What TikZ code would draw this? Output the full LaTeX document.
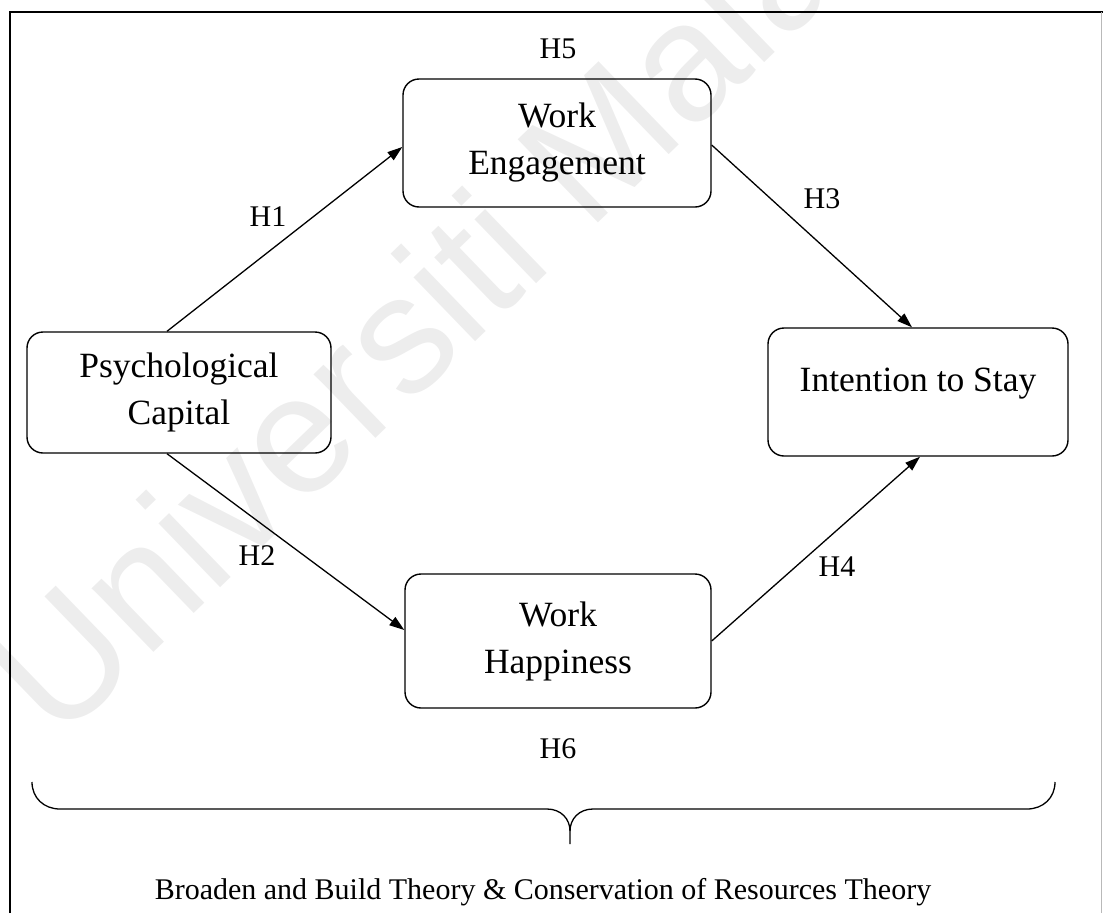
\documentclass[tikz,border=0pt]{standalone}
\usepackage{fontspec}
\setmainfont{Liberation Serif}
\newfontfamily\wmfont{Liberation Sans}
\usetikzlibrary{arrows.meta,calc}

\begin{document}
\begin{tikzpicture}[x=1pt,y=-1pt,
  box/.style={draw, line width=1.4pt, rounded corners=16pt, align=center,
    inner sep=0pt, font=\fontsize{35.5}{47}\selectfont},
  hlab/.style={anchor=base, inner sep=0pt, font=\fontsize{30}{36}\selectfont},
  link/.style={line width=1.3pt, -{Triangle[length=15pt,width=10pt]}},
  brace/.style={line width=1.3pt},
]
\useasboundingbox (0,0) rectangle (1103,913);
\clip (0,0) rectangle (1103,913);

% faint watermark behind the model
\node[rotate=44, anchor=base west, inner sep=0pt, text=black!7,
  font=\wmfont\fontsize{168}{168}\selectfont] (wm) at (58,745) {Universiti Malaya};

% page frame
\draw[line width=1.8pt] (10,913) -- (10,12) -- (1103,12);
\draw[line width=1.2pt, gray!55] (1101.5,12) -- (1101.5,913);

% constructs
\node[box, minimum width=308pt, minimum height=128pt] (WE) at (557,143) {Work\\Engagement};
\node[box, minimum width=304pt, minimum height=121pt] (PC) at (179,392.5) {Psychological\\Capital};
\node[box, minimum width=300pt, minimum height=128pt] (IS) at (918,392) {};
\node[anchor=base, inner sep=0pt, font=\fontsize{35.5}{47}\selectfont] (IStxt)
  at ([yshift=1pt]IS.center) {Intention to Stay};
\node[box, minimum width=306pt, minimum height=134pt] (WH) at (558,641) {Work\\Happiness};

% hypothesised paths
\draw[link] ([xshift=-12pt]PC.north) -- ([yshift=-4pt]WE.west);
\draw[link] ([yshift=-2pt]WE.east) -- ([xshift=-6pt]IS.north);
\draw[link] ([xshift=-12pt]PC.south) -- ([yshift=11pt]WH.west);
\draw[link] (WH.east) -- ([xshift=2pt]IS.south);

% hypothesis labels
\node[hlab] (h1) at (268,226) {H1};
\node[hlab] (h2) at (257,565) {H2};
\node[hlab] (h3) at (822,208) {H3};
\node[hlab] (h4) at (837,576) {H4};
\node[hlab] (h5) at (558,58) {H5};
\node[hlab] (h6) at (558,758) {H6};

% underlying theories
\draw[brace] (32,782) .. controls (32,798) and (44,809) .. (60,809) -- (547,809)
  .. controls (561,809) and (570,819) .. (570,831) -- (570,844);
\draw[brace] (570,831) .. controls (570,819) and (579,809) .. (593,809) -- (1027,809)
  .. controls (1043,809) and (1055,798) .. (1055,782);
\node[anchor=base, inner sep=0pt, font=\fontsize{30}{36}\selectfont] (theory) at (543,899)
  {Broaden and Build Theory \& Conservation of Resources Theory};
\end{tikzpicture}
\end{document}
